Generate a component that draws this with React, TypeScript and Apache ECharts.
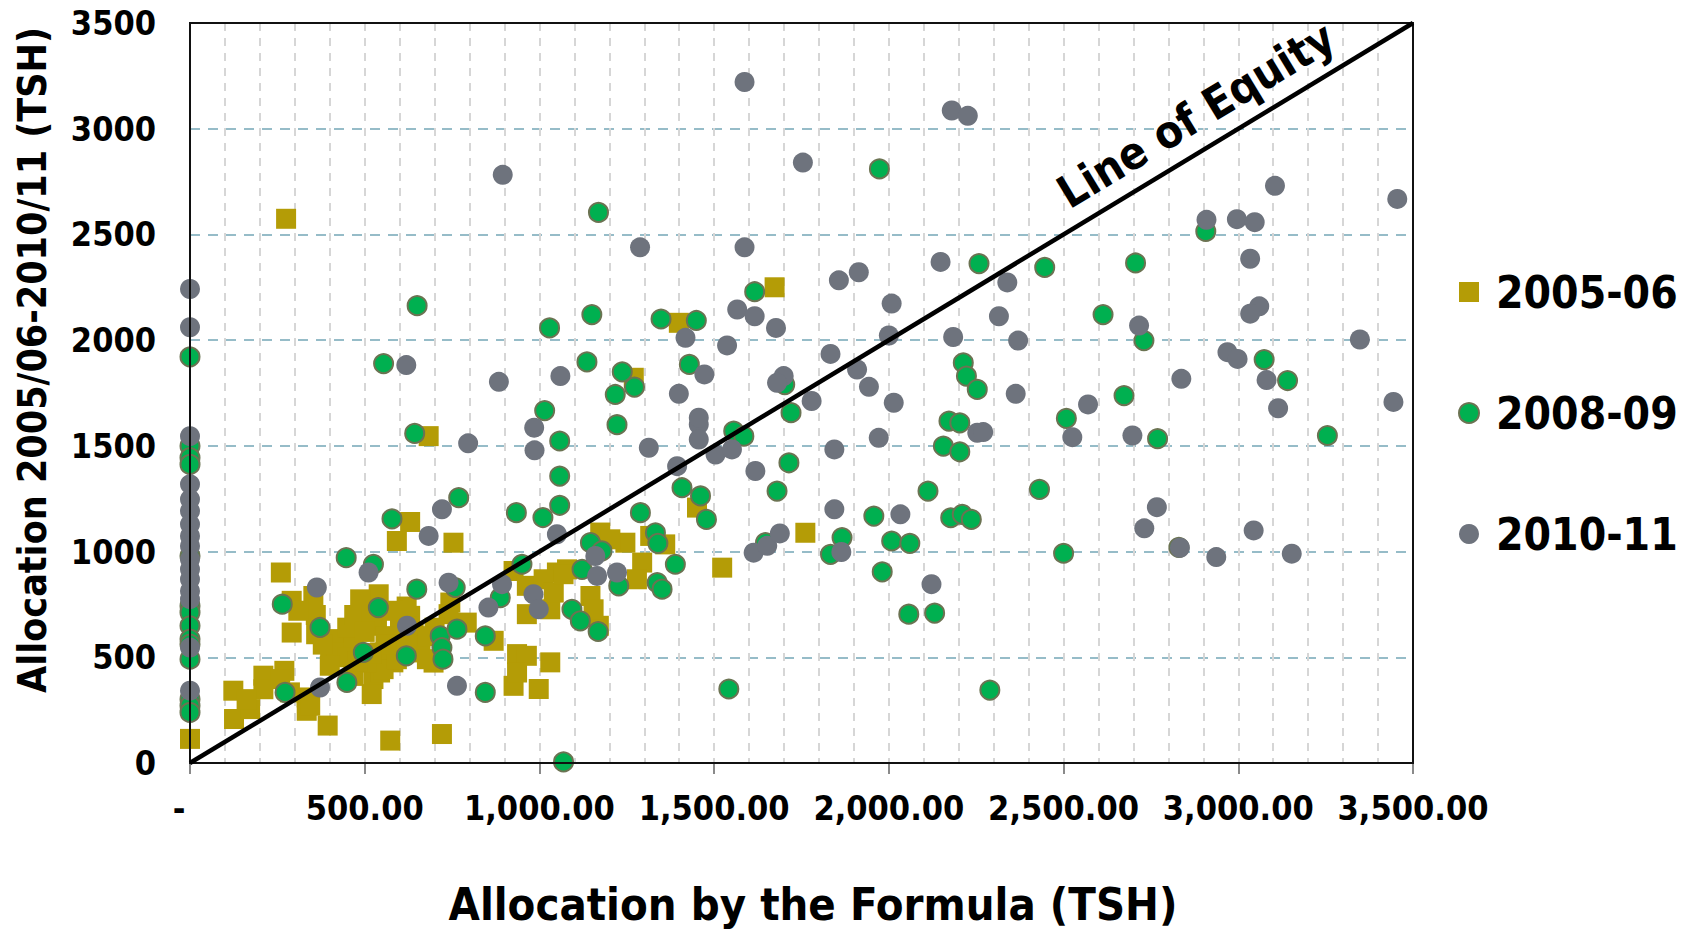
import React, { useEffect, useRef } from "react";
import * as echarts from "echarts";

const FONT = '"DejaVu Sans Condensed", "DejaVu Sans", sans-serif';

const seriesNames = ["2005-06", "2008-09", "2010-11"];

const xTicks = [0, 500, 1000, 1500, 2000, 2500, 3000, 3500];
const yTicks = [0, 500, 1000, 1500, 2000, 2500, 3000, 3500];

const alloc2005: number[][] = [
  [0, 114], [275, 2574], [683, 1546], [630, 1140], [260, 901], [124, 342], [126, 208], [172, 255],
  [210, 413], [270, 436], [291, 767], [353, 790], [291, 617], [361, 609], [394, 177], [334, 310],
  [334, 247], [401, 531], [439, 562], [492, 759], [540, 798], [525, 397], [520, 326], [573, 106],
  [544, 428], [582, 476], [592, 1050], [630, 696], [659, 523], [721, 137], [754, 1042], [745, 759],
  [792, 664], [869, 578], [926, 908], [936, 515], [964, 704], [998, 350], [1031, 476], [1031, 727],
  [1050, 901], [964, 838], [1170, 649], [1012, 869], [1079, 916], [1041, 806], [1146, 790], [1155, 727],
  [964, 507], [926, 365], [936, 428], [740, 704], [697, 475],
  [411, 586], [420, 523], [468, 570], [487, 774], [492, 680], [535, 649], [544, 523], [554, 444],
  [582, 570], [601, 680], [640, 617], [659, 554], [678, 491], [592, 491], [506, 475], [468, 412],
  [344, 271], [210, 349], [162, 302], [258, 397], [286, 334],
  [450, 640], [470, 700], [520, 700], [560, 600], [610, 620], [620, 560], [560, 560], [500, 620],
  [450, 500], [380, 560], [400, 460], [620, 740], [700, 640], [680, 600], [520, 520], [480, 480],
  [580, 720], [360, 700], [310, 720],
  [1174, 1090], [1246, 1042], [1294, 948], [1279, 869], [1360, 1034], [1451, 1208], [1523, 924],
  [1761, 1089], [1069, 893], [1203, 1058], [1317, 1074], [1673, 2250], [1399, 2082], [1270, 1822],
];

const alloc2008: number[][] = [
  [0, 1921], [0, 1499], [0, 1444], [0, 1412], [0, 979], [0, 743], [0, 712], [0, 649], [0, 586],
  [0, 562], [0, 491], [0, 302], [0, 271], [0, 239],
  [650, 2163], [554, 1889], [1029, 2058], [1150, 2121], [1169, 2604], [1136, 1897], [1015, 1667],
  [1058, 1523], [1058, 1357], [1058, 1219], [643, 1559], [769, 1255], [934, 1184], [1010, 1161], [578, 1155],
  [447, 971], [525, 940], [264, 751], [372, 641], [272, 334], [449, 381], [496, 523], [539, 735],
  [649, 822], [619, 507], [716, 601], [721, 546], [724, 491], [764, 633], [759, 830], [845, 601],
  [845, 334], [888, 782], [950, 940], [1069, 5], [1093, 727], [1117, 672], [1122, 916], [1146, 1042],
  [1168, 622], [1179, 1003],
  [1222, 1600], [1408, 1302], [1461, 1263], [1478, 1152], [1289, 1184], [1332, 1089], [1339, 1039],
  [1389, 940], [1337, 853], [1351, 822], [1227, 838], [1542, 350], [1556, 1570], [1585, 1546],
  [1714, 1420], [1680, 1286], [1647, 1042], [1866, 1066], [1833, 987], [1957, 1168], [2008, 1050],
  [2060, 1039], [1981, 904], [2112, 1286], [2177, 1160], [2210, 1176], [2236, 1152], [2156, 1499],
  [2203, 1472], [2172, 1617], [2203, 1609], [2057, 704], [2131, 709],
  [1973, 2810], [1616, 2229], [1348, 2100], [1449, 2093], [1237, 1850], [1272, 1778], [1217, 1743],
  [1429, 1885], [1702, 1790], [1720, 1657], [2213, 1893], [2222, 1830], [2253, 1767], [2258, 2362],
  [2907, 2514], [2446, 2344], [2706, 2365], [2613, 2121], [2730, 1998], [3074, 1908], [3141, 1809],
  [2673, 1738], [2508, 1630], [2769, 1534], [3255, 1549],
  [2431, 1294], [2500, 992], [2289, 345], [2830, 1020],
];

const alloc2010: number[][] = [
  [0, 2242], [0, 2061], [0, 1546], [0, 1318], [0, 1247], [0, 1192], [0, 1129], [0, 1074], [0, 1026],
  [0, 964], [0, 916], [0, 869], [0, 814], [0, 775], [0, 546], [0, 342],
  [895, 2782], [619, 1882], [884, 1803], [1060, 1830], [985, 1586], [986, 1479], [796, 1512], [721, 1200],
  [363, 830], [372, 357], [511, 901], [621, 649], [683, 1074], [740, 853], [764, 365], [854, 735],
  [893, 846], [983, 798], [998, 727], [1050, 1082], [1160, 979], [1165, 885],
  [1456, 1601], [1456, 1530], [1504, 1459], [1551, 1483], [1394, 1404], [1313, 1491], [1618, 1381],
  [1222, 901], [1613, 995], [1652, 1027], [1688, 1086], [1844, 1483], [1971, 1538], [1844, 1200],
  [2033, 1176], [1864, 998], [2122, 846], [2253, 1562],
  [1587, 3221], [2180, 3086], [2226, 3061], [1754, 2840], [1288, 2439], [1587, 2439], [1857, 2283],
  [1914, 2321], [2148, 2370], [2008, 2173], [1566, 2145], [1616, 2113], [1677, 2058], [1418, 2011],
  [1537, 1975], [2000, 2022], [2184, 2015], [1833, 1935], [1909, 1861], [1943, 1779], [2014, 1704],
  [1779, 1712], [1699, 1830], [1680, 1798], [1472, 1838], [1399, 1746], [1456, 1633],
  [3105, 2730], [3455, 2668], [2909, 2569], [2996, 2572], [3047, 2558], [3034, 2385], [3060, 2160],
  [3034, 2125], [2339, 2273], [2315, 2113], [2370, 1998], [2716, 2069], [2969, 1943], [2998, 1911],
  [2837, 1817], [3081, 1811], [3114, 1678], [3348, 2003], [3444, 1708], [2363, 1746], [2570, 1696],
  [2270, 1565], [2525, 1541], [2697, 1549],
  [2767, 1210], [2731, 1110], [2833, 1018], [2937, 974], [3044, 1100], [3153, 990],
];

const equityLine: number[][] = [
  [0, 0],
  [3500, 3500],
];

function fmtX(v: number): string {
  if (v === 0) return "{d|-}";
  const s = Math.round(v).toString().replace(/\B(?=(\d{3})+(?!\d))/g, ",");
  return s + ".00";
}

function fmtY(v: number): string {
  return String(Math.round(v));
}

export default function App() {
  const ref = useRef<HTMLDivElement>(null);
  useEffect(() => {
    if (!ref.current) return;
    const chart = echarts.init(ref.current, null, { renderer: "svg" });
    const labelStyle = { fontFamily: FONT, fontWeight: "bold" as const, fontSize: 34, color: "#000" };
    const option: any = {
      animation: false,
      backgroundColor: "#fff",
      grid: {
        left: 190,
        right: 271,
        top: 23,
        bottom: 167,
        show: true,
        borderColor: "#111",
        borderWidth: 2,
        backgroundColor: "transparent",
        z: 3,
      },
      xAxis: {
        type: "value",
        min: xTicks[0],
        max: xTicks[xTicks.length - 1],
        interval: 500,
        axisLine: { show: true, onZero: false, lineStyle: { color: "#8a8a8a", width: 2 } },
        axisTick: { show: true, length: 11, lineStyle: { color: "#8a8a8a", width: 2 } },
        axisLabel: {
          ...labelStyle,
          margin: 28,
          formatter: fmtX,
          rich: { d: { ...labelStyle, padding: [0, 22, 0, 0] } },
        },
        splitLine: {
          show: true,
          showMinLine: false,
          showMaxLine: false,
          lineStyle: { color: "#d6d6d6", width: 2, type: [8, 7] },
        },
        minorTick: { show: false, splitNumber: 5 },
        minorSplitLine: { show: true, lineStyle: { color: "#d6d6d6", width: 2, type: [8, 7] } },
      },
      yAxis: {
        type: "value",
        min: yTicks[0],
        max: yTicks[yTicks.length - 1],
        interval: 500,
        axisLine: { show: true, onZero: false, lineStyle: { color: "#8a8a8a", width: 2 } },
        axisTick: { show: false },
        axisLabel: { ...labelStyle, margin: 34, formatter: fmtY },
        splitLine: {
          show: true,
          showMinLine: false,
          showMaxLine: false,
          lineStyle: { color: "#74a6b6", width: 1.5, type: [10, 8] },
        },
      },
      legend: {
        orient: "vertical",
        left: 1453,
        top: 262,
        itemWidth: 20,
        itemHeight: 20,
        itemGap: 71,
        data: [
          { name: seriesNames[0], icon: "rect" },
          { name: seriesNames[1], icon: "circle" },
          { name: seriesNames[2], icon: "circle" },
        ],
        textStyle: {
          fontFamily: FONT,
          fontWeight: "bold",
          fontSize: 44,
          lineHeight: 50,
          color: "#000",
          padding: [0, 0, 0, 12],
        },
      },
      graphic: [
        {
          type: "text",
          x: 813,
          y: 904,
          style: {
            text: "Allocation by the Formula (TSH)",
            fontFamily: FONT,
            fontWeight: "bold",
            fontSize: 45,
            fill: "#000",
            align: "center",
            verticalAlign: "middle",
          },
        },
        {
          type: "text",
          x: 32,
          y: 360,
          rotation: Math.PI / 2,
          style: {
            text: "Allocation 2005/06-2010/11 (TSH)",
            fontFamily: FONT,
            fontWeight: "bold",
            fontSize: 39,
            fill: "#000",
            align: "center",
            verticalAlign: "middle",
          },
        },
        {
          type: "text",
          x: 1196,
          y: 115,
          rotation: (31.2 * Math.PI) / 180,
          z: 100,
          style: {
            text: "Line of Equity",
            fontFamily: FONT,
            fontWeight: "bold",
            fontSize: 45,
            fill: "#000",
            align: "center",
            verticalAlign: "middle",
          },
        },
      ],
      series: [
        {
          name: seriesNames[0],
          type: "scatter",
          symbol: "rect",
          symbolSize: 20,
          data: alloc2005,
          itemStyle: { color: "#B49C06", opacity: 1 },
          emphasis: { disabled: true },
        },
        {
          name: seriesNames[1],
          type: "scatter",
          symbol: "circle",
          symbolSize: 19,
          data: alloc2008,
          itemStyle: { color: "#00B050", borderColor: "#6B7352", borderWidth: 2, opacity: 1 },
          emphasis: { disabled: true },
        },
        {
          name: seriesNames[2],
          type: "scatter",
          symbol: "circle",
          symbolSize: 20,
          data: alloc2010,
          itemStyle: { color: "#6E737D", opacity: 1 },
          emphasis: { disabled: true },
        },
        {
          name: "Line of Equity",
          type: "line",
          data: equityLine,
          symbol: "none",
          z: 10,
          lineStyle: { color: "#000", width: 4.5 },
          silent: true,
        },
      ],
    };
    chart.setOption(option);
    return () => chart.dispose();
  }, []);
  return (
    <div
      ref={ref}
      style={{ position: "absolute", left: 0, top: 0, width: 1684, height: 930 }}
    />
  );
}
